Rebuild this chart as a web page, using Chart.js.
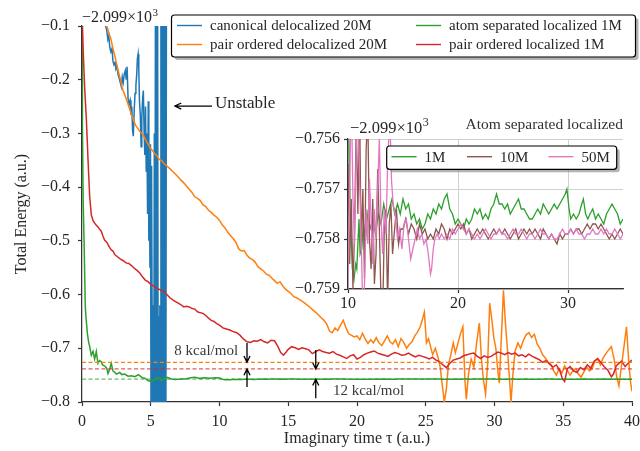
<!DOCTYPE html>
<html>
<head>
<meta charset="utf-8">
<script src="https://cdn.jsdelivr.net/npm/chart.js@4.4.0/dist/chart.umd.min.js"></script>
<style>
body{margin:0;background:#fff}
#wrap{position:relative;width:640px;height:451px}
#main{position:absolute;left:0;top:0}
#inset{position:absolute;left:280px;top:110px}
</style>
</head>
<body>
<div id="wrap">
<canvas id="main" width="640" height="451"></canvas>
<canvas id="inset" width="350" height="212"></canvas>
</div>
<script>
// ticks
const xTicks=[0,5,10,15,20,25,30,35,40];
const yTicks=[-0.8,-0.7,-0.6,-0.5,-0.4,-0.3,-0.2,-0.1];
const insetXTicks=[10,20,30];
const insetYTicks=[-0.759,-0.758,-0.757,-0.756];
// dashed reference levels: pair ordered delocalized, pair ordered localized, atom separated localized
const refLevels=[-0.7262,-0.7385,-0.7575];

// [tau, E + 2099]
const canonicalDeloc20M=[[1.45,-.06],[1.6,-.09],[1.72,-.1],[1.8,-.108],[1.88,-.125],[1.95,-.118],[2.02,-.14],[2.1,-.148],[2.18,-.142],[2.25,-.165],
[2.32,-.172],[2.4,-.168],[2.47,-.18],[2.55,-.176],[2.62,-.19],[2.7,-.197],[2.78,-.205],[2.86,-.213],[2.93,-.195],[3.0,-.205],[3.07,-.19],
[3.15,-.183],[3.22,-.2],[3.28,-.176],[3.35,-.235],[3.42,-.245],[3.5,-.238],[3.56,-.265],[3.62,-.25],[3.68,-.295],[3.73,-.305],[3.8,-.255],
[3.86,-.225],[3.92,-.21],[3.98,-.19],[4.03,-.16],[4.08,-.152],[4.13,-.18],[4.18,-.24],[4.24,-.265],[4.3,-.325],[4.35,-.27],[4.4,-.24],
[4.46,-.22],[4.52,-.3],[4.57,-.34],[4.62,-.25],[4.67,-.37],[4.72,-.3],[4.77,-.45],[4.82,-.24],[4.86,-.5],[4.9,-.35],[4.94,-.55],[4.98,-.32],
[5.02,-.85],[5.06,-.36],[5.1,-.64],[5.14,-.85],[5.18,-.62],[5.22,-.85],[5.26,-.3],[5.3,-.85],[5.34,-.05],[5.38,-.85],[5.42,-.05],[5.46,-.85],
[5.5,-.05],[5.54,-.85],[5.58,-.64],[5.62,-.85],[5.66,-.62],[5.7,-.85],[5.74,-.05],[5.78,-.85],[5.82,-.05],[5.86,-.85],[5.9,-.05],[5.94,-.85],
[5.98,-.05],[6.02,-.85],[6.06,-.05],[6.1,-.85],[6.14,-.05]];

const pairOrderedDeloc20M=[[1.7,-.09],[1.8,-.1],[1.9,-.108],[2.0,-.117],[2.1,-.124],[2.2,-.136],[2.3,-.147],[2.4,-.157],[2.5,-.169],[2.6,-.18],
[2.7,-.19],[2.8,-.2],[2.9,-.213],[3.0,-.221],[3.15,-.231],[3.3,-.242],[3.45,-.253],[3.6,-.265],[3.75,-.276],[3.9,-.285],[4.05,-.29],[4.2,-.296],
[4.35,-.3],[4.5,-.305],[4.65,-.313],[4.8,-.32],[5.0,-.328],[5.15,-.333],[5.3,-.338],[5.45,-.342],[5.6,-.348],[5.8,-.351],[6.0,-.357],[6.2,-.361],
[6.4,-.366],[6.6,-.371],[6.8,-.376],[7.0,-.381],[7.2,-.387],[7.4,-.392],[7.6,-.398],[7.8,-.404],[8.0,-.41],[8.2,-.418],[8.4,-.421],[8.6,-.425],
[8.8,-.433],[9.0,-.436],[9.2,-.443],[9.4,-.447],[9.6,-.452],[9.8,-.456],[10.0,-.462],[10.2,-.47],[10.4,-.476],[10.6,-.484],[10.8,-.49],[11.0,-.496],
[11.2,-.503],[11.4,-.515],[11.6,-.519],[11.8,-.518],[12.0,-.527],[12.2,-.532],[12.4,-.535],[12.6,-.54],[12.8,-.548],[13.0,-.552],[13.2,-.556],
[13.4,-.562],[13.6,-.564],[13.8,-.569],[14.0,-.574],[14.2,-.579],[14.4,-.576],[14.6,-.584],[14.8,-.59],[15.0,-.594],[15.2,-.598],[15.4,-.604],
[15.6,-.606],[15.8,-.609],[16.0,-.612],[16.2,-.616],[16.4,-.62],[16.6,-.624],[16.8,-.629],[17.0,-.633],[17.2,-.638],[17.4,-.643],[17.6,-.648],
[17.8,-.655],[18.0,-.668],[18.2,-.671],[18.4,-.662],[18.6,-.667],[18.8,-.657],[19.0,-.648],[19.2,-.662],[19.4,-.673],[19.6,-.676],[19.8,-.679],
[20.0,-.677],[20.2,-.684],[20.4,-.672],[20.6,-.683],[20.8,-.691],[21.0,-.684],[21.2,-.69],[21.4,-.68],[21.6,-.69],[21.8,-.695],[22.0,-.686],
[22.2,-.677],[22.4,-.688],[22.6,-.692],[22.8,-.684],[23.0,-.697],[23.2,-.682],[23.4,-.689],[23.6,-.7],[23.8,-.693],[24.0,-.688],[24.2,-.677],
[24.4,-.67],[24.6,-.66],[24.75,-.647],[24.9,-.633],[25.05,-.69],[25.2,-.682],[25.35,-.697],[25.5,-.712],[25.7,-.7],[25.9,-.718],[26.05,-.735],
[26.2,-.768],[26.35,-.8],[26.5,-.775],[26.65,-.73],[26.8,-.715],[27.0,-.69],[27.15,-.708],[27.3,-.695],[27.5,-.675],[27.7,-.66],[27.85,-.76],
[27.95,-.795],[28.1,-.75],[28.3,-.72],[28.5,-.735],[28.7,-.69],[28.9,-.653],[29.05,-.72],[29.2,-.76],[29.35,-.785],[29.5,-.73],[29.65,-.616],
[29.8,-.645],[29.95,-.68],[30.1,-.7],[30.25,-.745],[30.35,-.765],[30.5,-.68],[30.65,-.592],[30.8,-.655],[30.95,-.705],[31.1,-.76],[31.2,-.8],
[31.35,-.745],[31.5,-.705],[31.7,-.69],[31.9,-.7],[32.1,-.685],[32.3,-.675],[32.5,-.671],[32.7,-.68],[32.9,-.674],[33.1,-.692],[33.3,-.7],
[33.5,-.712],[33.7,-.718],[33.9,-.726],[34.1,-.73],[34.3,-.742],[34.5,-.75],[34.7,-.738],[34.9,-.746],[35.1,-.733],[35.3,-.741],[35.5,-.75],
[35.7,-.742],[35.9,-.738],[36.1,-.748],[36.3,-.754],[36.5,-.744],[36.7,-.735],[36.9,-.742],[37.1,-.738],[37.3,-.724],[37.5,-.72],[37.7,-.731],
[37.9,-.718],[38.1,-.71],[38.3,-.703],[38.5,-.697],[38.7,-.72],[38.9,-.755],[39.05,-.77],[39.2,-.74],[39.35,-.71],[39.5,-.68],[39.6,-.66],
[39.75,-.72],[39.9,-.765],[40.0,-.78]];

const atomSepLoc1M=[[0,-.02],[0.03,-.28],[0.08,-.42],[0.15,-.5],[0.24,-.623],[0.3,-.645],[0.39,-.672],[0.48,-.688],[0.56,-.697],[0.68,-.713],
[0.8,-.706],[0.92,-.72],[1.04,-.706],[1.16,-.728],[1.28,-.723],[1.4,-.725],[1.5,-.731],[1.65,-.733],[1.8,-.737],[1.89,-.747],[2.0,-.74],
[2.13,-.728],[2.25,-.742],[2.4,-.745],[2.5,-.748],[2.75,-.745],[2.9,-.749],[3.1,-.748],[3.35,-.752],[3.6,-.751],[3.85,-.753],[4.1,-.749],
[4.4,-.755],[4.6,-.756],[4.8,-.76],[5.05,-.762],[5.3,-.757],[5.55,-.754],[5.8,-.76],[6.0,-.757],[6.2,-.754],[6.5,-.757],[6.8,-.758],[7.2,-.757],
[7.5,-.757],[7.9,-.755],[8.2,-.754],[8.6,-.756],[8.9,-.755],[9.3,-.756],[9.7,-.755],
[10.0,-.7552],[10.1,-.7562],[10.2,-.7574],[10.3,-.758],[10.4,-.7586],[10.55,-.7588],[10.7,-.7585],[10.8,-.7586],[10.9,-.7581],[11.0,-.7576],
[11.1,-.7583],[11.25,-.7582],[11.4,-.7577],[11.6,-.758],[11.8,-.7575],[12.0,-.7578],[12.25,-.7576],[12.5,-.7579],[12.75,-.7575],[13.0,-.7577],
[13.25,-.7573],[13.5,-.7576],[13.75,-.7574],[14.0,-.7572],[14.25,-.7575],[14.5,-.7573],[14.75,-.7575],[15.0,-.7572],[15.25,-.7574],[15.5,-.7573],
[15.75,-.7576],[16.0,-.7575],[16.25,-.7577],[16.5,-.7576],[16.75,-.7578],[17.0,-.7577],[17.25,-.7575],[17.5,-.7576],[17.75,-.7574],[18.0,-.7575],
[18.25,-.7573],[18.5,-.7574],[18.75,-.7572],[19.0,-.7571],[19.25,-.7574],[19.5,-.7575],[19.75,-.7577],[20.0,-.7576],[20.25,-.7577],[20.5,-.7578],
[20.75,-.7576],[21.0,-.7577],[21.25,-.7576],[21.5,-.7574],[21.75,-.7575],[22.0,-.7574],[22.25,-.7576],[22.5,-.7575],[22.75,-.7576],[23.0,-.7574],
[23.25,-.7573],[23.5,-.7571],[23.75,-.7573],[24.0,-.7573],[24.25,-.7574],[24.5,-.7573],[24.75,-.7575],[25.0,-.7574],[25.25,-.7573],[25.5,-.7572],
[25.75,-.7574],[26.0,-.7574],[26.25,-.7575],[26.5,-.7576],[26.75,-.7576],[27.0,-.7575],[27.25,-.7574],[27.5,-.7575],[27.75,-.7573],[28.0,-.7574],
[28.25,-.7575],[28.5,-.7574],[28.75,-.7573],[29.0,-.7574],[29.25,-.7573],[29.5,-.7572],[29.75,-.7571],[29.9,-.757],[30.1,-.7574],[30.25,-.7576],
[30.5,-.7575],[30.75,-.7576],[31.0,-.7575],[31.25,-.7573],[31.4,-.7572],[31.6,-.7575],[31.8,-.7576],[32.0,-.7575],[32.25,-.7574],[32.5,-.7576],
[32.75,-.7575],[33.0,-.7576],[33.25,-.7577],[33.5,-.7575],[33.75,-.7574],[34.0,-.7573],[34.25,-.7574],[34.5,-.7575],[34.75,-.7577],[35.0,-.7576],
[35.5,-.7575],[36.0,-.7576],[36.5,-.7574],[37.0,-.7575],[37.5,-.7576],[38.0,-.7574],[38.5,-.7575],[39.0,-.7575],[39.5,-.7576],[40.0,-.7575]];

const pairOrderedLoc1M=[[0,-.08],[0.1,-.155],[0.19,-.213],[0.32,-.275],[0.44,-.35],[0.56,-.418],[0.68,-.452],[0.8,-.462],[0.92,-.467],[1.04,-.471],
[1.16,-.474],[1.3,-.479],[1.4,-.482],[1.52,-.491],[1.65,-.499],[1.78,-.502],[1.9,-.507],[2.0,-.512],[2.13,-.517],[2.25,-.519],[2.4,-.526],
[2.6,-.53],[2.8,-.534],[3.0,-.537],[3.2,-.541],[3.4,-.542],[3.6,-.546],[3.8,-.551],[4.0,-.555],[4.2,-.56],[4.4,-.567],[4.6,-.573],[4.8,-.576],
[5.0,-.581],[5.2,-.584],[5.4,-.588],[5.6,-.59],[5.8,-.593],[6.0,-.595],[6.2,-.601],[6.4,-.606],[6.6,-.61],[6.8,-.613],[7.0,-.616],[7.2,-.619],
[7.4,-.623],[7.6,-.622],[7.8,-.623],[8.0,-.626],[8.2,-.627],[8.4,-.632],[8.6,-.634],[8.8,-.635],[9.0,-.639],[9.2,-.644],[9.4,-.648],[9.6,-.65],
[9.8,-.654],[10.0,-.657],[10.25,-.662],[10.5,-.664],[10.75,-.666],[11.0,-.669],[11.25,-.671],[11.5,-.676],[11.75,-.683],[12.0,-.688],[12.25,-.689],
[12.5,-.686],[12.75,-.687],[13.0,-.684],[13.25,-.688],[13.5,-.69],[13.75,-.685],[14.0,-.686],[14.25,-.697],[14.45,-.708],[14.65,-.713],[14.85,-.707],
[15.0,-.702],[15.25,-.697],[15.5,-.699],[15.75,-.702],[16.0,-.699],[16.25,-.701],[16.5,-.703],[16.75,-.71],[17.0,-.706],[17.25,-.703],[17.5,-.706],
[17.75,-.708],[18.0,-.709],[18.25,-.706],[18.5,-.711],[18.75,-.713],[19.0,-.716],[19.25,-.719],[19.5,-.714],[19.75,-.712],[20.0,-.72],[20.25,-.717],
[20.5,-.712],[20.75,-.709],[21.0,-.707],[21.25,-.705],[21.5,-.709],[21.75,-.711],[22.0,-.713],[22.25,-.715],[22.5,-.711],[22.75,-.708],[23.0,-.71],
[23.25,-.713],[23.5,-.712],[23.75,-.709],[24.0,-.713],[24.25,-.716],[24.5,-.713],[24.75,-.715],[25.0,-.717],[25.25,-.72],[25.5,-.717],[25.75,-.722],
[26.0,-.725],[26.25,-.731],[26.5,-.736],[26.75,-.728],[27.0,-.722],[27.25,-.72],[27.5,-.718],[27.75,-.714],[28.0,-.712],[28.25,-.71],[28.5,-.709],
[28.75,-.715],[29.0,-.719],[29.25,-.714],[29.5,-.717],[29.75,-.715],[30.0,-.711],[30.25,-.707],[30.5,-.709],[30.75,-.712],[31.0,-.708],[31.25,-.711],
[31.5,-.709],[31.75,-.714],[32.0,-.712],[32.25,-.716],[32.5,-.711],[32.75,-.715],[33.0,-.718],[33.25,-.721],[33.5,-.726],[33.75,-.723],[34.0,-.729],
[34.25,-.735],[34.5,-.731],[34.75,-.742],[34.95,-.757],[35.1,-.762],[35.3,-.738],[35.5,-.734],[35.75,-.742],[36.0,-.745],[36.25,-.736],[36.5,-.74],
[36.75,-.731],[37.0,-.737],[37.25,-.724],[37.5,-.719],[37.75,-.727],[38.0,-.735],[38.25,-.741],[38.5,-.753],[38.65,-.748],[38.85,-.733],[39.0,-.729],
[39.25,-.724],[39.5,-.734],[39.75,-.727],[40.0,-.722]];

// inset only
const atomSepLoc10M=[[10.0,-.7565],[10.15,-.7585],[10.3,-.7572],[10.45,-.759],[10.6,-.7578],[10.75,-.7556],[10.9,-.7575],[11.05,-.7553],[11.2,-.7582],
[11.35,-.757],[11.5,-.7588],[11.65,-.7562],[11.8,-.7555],[11.95,-.758],[12.1,-.7586],[12.25,-.7572],[12.4,-.7589],[12.55,-.7583],[12.7,-.7566],
[12.85,-.7578],[13.0,-.7592],[13.15,-.7595],[13.3,-.7578],[13.45,-.7574],[13.6,-.7593],[13.75,-.7577],[13.9,-.7573],[14.05,-.7583],[14.2,-.7579],
[14.4,-.7574],[14.6,-.7581],[14.8,-.7578],[15.0,-.7578],[15.25,-.7576],[15.5,-.7579],[15.75,-.7577],[16.0,-.7578],[16.25,-.758],[16.5,-.7577],
[16.75,-.7579],[17.0,-.7578],[17.25,-.758],[17.5,-.7579],[17.75,-.758],[18.0,-.7578],[18.25,-.7579],[18.5,-.7577],[18.75,-.7578],[19.0,-.758],
[19.25,-.7578],[19.5,-.7579],[19.75,-.7578],[20.0,-.7577],[20.25,-.7578],[20.5,-.7577],[20.75,-.7579],[21.0,-.7578],[21.25,-.758],[21.5,-.7579],
[21.75,-.7578],[22.0,-.7579],[22.25,-.7578],[22.5,-.7579],[22.75,-.758],[23.0,-.7579],[23.25,-.7578],[23.5,-.7579],[23.75,-.7578],[24.0,-.7579],
[24.25,-.7578],[24.5,-.7579],[24.75,-.758],[25.0,-.7579],[25.25,-.7578],[25.5,-.758],[25.75,-.7579],[26.0,-.7578],[26.25,-.7579],[26.5,-.7578],
[26.75,-.7579],[27.0,-.7578],[27.25,-.7579],[27.5,-.758],[27.75,-.7578],[28.0,-.7579],[28.25,-.758],[28.5,-.7579],[28.75,-.758],[29.0,-.7581],
[29.25,-.7579],[29.5,-.758],[29.75,-.7579],[30.0,-.7579],[30.25,-.7578],[30.5,-.7579],[30.75,-.7578],[31.0,-.7578],[31.25,-.7579],[31.5,-.7578],
[31.75,-.7577],[32.0,-.7578],[32.25,-.7577],[32.5,-.7577],[32.75,-.7578],[33.0,-.7577],[33.25,-.7578],[33.5,-.7579],[33.75,-.758],[34.0,-.7579],
[34.25,-.758],[34.5,-.7579],[34.75,-.7578],[35.0,-.7579]];

const atomSepLoc50M=[[10.0,-.759],[10.15,-.757],[10.3,-.755],[10.45,-.7572],[10.6,-.7581],[10.75,-.7562],[10.9,-.755],[11.05,-.7568],[11.2,-.758],
[11.35,-.7595],[11.5,-.7589],[11.65,-.7574],[11.8,-.7581],[11.95,-.7568],[12.1,-.7576],[12.25,-.7585],[12.4,-.7574],[12.55,-.758],[12.7,-.757],
[12.85,-.756],[13.0,-.7576],[13.15,-.7583],[13.3,-.7574],[13.45,-.7579],[13.6,-.7565],[13.8,-.7555],[13.95,-.7568],[14.1,-.7573],[14.3,-.7575],
[14.5,-.758],[14.7,-.7578],[14.9,-.7582],[15.1,-.7577],[15.3,-.7576],[15.5,-.758],[15.7,-.7584],[15.9,-.7582],[16.1,-.758],[16.3,-.7578],
[16.5,-.758],[16.7,-.7579],[16.9,-.7581],[17.1,-.758],[17.3,-.7583],[17.5,-.7587],[17.6,-.7586],[17.75,-.7582],[17.9,-.758],[18.1,-.7579],
[18.3,-.758],[18.5,-.7579],[18.75,-.758],[19.0,-.7579],[19.25,-.758],[19.5,-.7578],[19.75,-.7579],[20.0,-.7578],[20.25,-.7577],[20.5,-.7578],
[20.75,-.7579],[21.0,-.7578],[21.25,-.7579],[21.5,-.758],[21.75,-.7579],[22.0,-.758],[22.25,-.7579],[22.5,-.7578],[22.75,-.7579],[23.0,-.758],
[23.25,-.7579],[23.5,-.7579],[23.75,-.7578],[24.0,-.7579],[24.25,-.7579],[24.5,-.758],[24.75,-.7579],[25.0,-.7578],[25.25,-.7579],[25.5,-.7579],
[25.75,-.7578],[26.0,-.7579],[26.25,-.758],[26.5,-.7579],[26.75,-.7579],[27.0,-.758],[27.25,-.7579],[27.5,-.7578],[27.75,-.7579],[28.0,-.7579],
[28.25,-.758],[28.5,-.7579],[28.75,-.758],[29.0,-.758],[29.25,-.7579],[29.5,-.7578],[29.75,-.7579],[30.0,-.7579],[30.25,-.7578],[30.5,-.7579],
[30.75,-.7578],[31.0,-.7579],[31.25,-.7579],[31.5,-.758],[31.75,-.7579],[32.0,-.7579],[32.25,-.7578],[32.5,-.7579],[32.75,-.7579],[33.0,-.7578],
[33.25,-.7579],[33.5,-.7578],[33.75,-.7579],[34.0,-.7579],[34.25,-.7578],[34.5,-.7579],[34.75,-.758],[35.0,-.7579]];

var serif="'Liberation Serif','Times New Roman',serif";
var ink='#262626';

function pts(a){ return a.map(function(p){ return {x:p[0], y:p[1]}; }); }
function level(v, x0, x1){ return [{x:x0, y:v},{x:x1, y:v}]; }
function minusFmt(v, d){ return v.toFixed(d).replace('-', '\u2212'); }

function roundBox(ctx, x, y, w, h, r){
  ctx.beginPath();
  ctx.moveTo(x+r, y);
  ctx.arcTo(x+w, y, x+w, y+h, r);
  ctx.arcTo(x+w, y+h, x, y+h, r);
  ctx.arcTo(x, y+h, x, y, r);
  ctx.arcTo(x, y, x+w, y, r);
  ctx.closePath();
}

function drawLegend(ctx, box, items, size){
  ctx.save();
  roundBox(ctx, box.x+3, box.y+3, box.w, box.h, 3);
  ctx.fillStyle='rgba(128,128,128,0.6)'; ctx.fill();
  roundBox(ctx, box.x, box.y, box.w, box.h, 3);
  ctx.fillStyle='#fff'; ctx.fill();
  ctx.strokeStyle='#000'; ctx.lineWidth=1.2; ctx.stroke();
  ctx.font=size+'px '+serif; ctx.textBaseline='middle'; ctx.textAlign='left';
  items.forEach(function(it){
    ctx.beginPath(); ctx.moveTo(it.x, it.y); ctx.lineTo(it.x+25, it.y);
    ctx.strokeStyle=it.color; ctx.lineWidth=1.4; ctx.stroke();
    ctx.fillStyle=ink; ctx.fillText(it.label, it.x+33, it.y+1);
  });
  ctx.restore();
}

function sciText(ctx, x, y, size){
  ctx.font=size+'px '+serif; ctx.textAlign='left'; ctx.textBaseline='alphabetic'; ctx.fillStyle=ink;
  var base='\u22122.099\u00d710';
  ctx.fillText(base, x, y);
  var w=ctx.measureText(base).width;
  ctx.font=Math.round(size*0.7)+'px '+serif;
  ctx.fillText('3', x+w+0.5, y-size*0.4);
}

function arrow(ctx, x1, y1, x2, y2){
  var a=Math.atan2(y2-y1, x2-x1), L=7, W=0.45;
  ctx.beginPath();
  ctx.moveTo(x1, y1); ctx.lineTo(x2, y2);
  ctx.moveTo(x2-L*Math.cos(a-W), y2-L*Math.sin(a-W));
  ctx.lineTo(x2, y2);
  ctx.lineTo(x2-L*Math.cos(a+W), y2-L*Math.sin(a+W));
  ctx.stroke();
}

function axisOpts(ticks, fmt, extra){
  var o={
    type:'linear', min:ticks[0], max:ticks[ticks.length-1],
    afterBuildTicks:function(s){ s.ticks=ticks.map(function(v){ return {value:v}; }); },
    border:{display:true, color:'#333', width:1.25},
    grid:{display:true, drawOnChartArea:false, drawTicks:true, tickLength:4, tickColor:'#333', tickWidth:1.2},
    ticks:{color:ink, font:{family:serif, size:16}, autoSkip:false, maxRotation:0, callback:fmt}
  };
  for(var k in extra) o[k]=extra[k];
  return o;
}

// keep the plot area fixed: no extra room for overhanging end labels
function fixX(h){ return function(s){ s.height=h; s.paddingLeft=0; s.paddingRight=0; }; }
function fixY(w){ return function(s){ s.width=w; s.paddingTop=0; s.paddingBottom=0; }; }

var mainNotes={
  id:'mainNotes',
  afterDraw:function(chart){
    var ctx=chart.ctx, x=chart.scales.x, y=chart.scales.y;
    ctx.save();
    sciText(ctx, 82, 22, 16);
    ctx.strokeStyle='#000'; ctx.lineWidth=1.3;
    arrow(ctx, x.getPixelForValue(9.45), y.getPixelForValue(-0.249), x.getPixelForValue(6.76), y.getPixelForValue(-0.249));
    arrow(ctx, x.getPixelForValue(12), y.getPixelForValue(-0.690), x.getPixelForValue(12), y.getPixelForValue(refLevels[0]));
    arrow(ctx, x.getPixelForValue(12), y.getPixelForValue(-0.772), x.getPixelForValue(12), y.getPixelForValue(refLevels[1]));
    arrow(ctx, x.getPixelForValue(17), y.getPixelForValue(-0.703), x.getPixelForValue(17), y.getPixelForValue(refLevels[1]));
    arrow(ctx, x.getPixelForValue(17), y.getPixelForValue(-0.793), x.getPixelForValue(17), y.getPixelForValue(refLevels[2]));
    ctx.fillStyle=ink; ctx.textBaseline='alphabetic';
    ctx.font='17px '+serif; ctx.textAlign='left';
    ctx.fillText('Unstable', x.getPixelForValue(9.67), y.getPixelForValue(-0.2527));
    ctx.font='15px '+serif; ctx.fillStyle='#3a3a3a';
    ctx.textAlign='right';
    ctx.fillText('8 kcal/mol', x.getPixelForValue(11.35), y.getPixelForValue(-0.712));
    ctx.textAlign='left';
    ctx.fillText('12 kcal/mol', x.getPixelForValue(18.25), y.getPixelForValue(-0.7872));
    ctx.restore();
    var ds=chart.data.datasets;
    drawLegend(ctx, {x:171.5, y:15, w:464, h:42}, [
      {label:ds[0].label, color:ds[0].borderColor, x:177, y:25.5},
      {label:ds[1].label, color:ds[1].borderColor, x:177, y:44.5},
      {label:ds[2].label, color:ds[2].borderColor, x:416, y:25.5},
      {label:ds[3].label, color:ds[3].borderColor, x:416, y:44.5}
    ], 15);
  }
};

var insetNotes={
  id:'insetNotes',
  beforeDraw:function(chart){
    var a=chart.chartArea, ctx=chart.ctx;
    ctx.save(); ctx.fillStyle='#fff'; ctx.fillRect(a.left, a.top, a.right-a.left, a.bottom-a.top); ctx.restore();
  },
  afterDraw:function(chart){
    var ctx=chart.ctx;
    ctx.save();
    sciText(ctx, 70, 23, 16.5);
    ctx.font='15.5px '+serif; ctx.textAlign='right'; ctx.fillStyle='#333';
    ctx.fillText('Atom separated localized', 343, 19);
    ctx.restore();
    var ds=chart.data.datasets;
    drawLegend(ctx, {x:106.7, y:36, w:230, h:23.3}, [
      {label:ds[0].label, color:ds[0].borderColor, x:111.5, y:46.7},
      {label:ds[1].label, color:ds[1].borderColor, x:187, y:46.7},
      {label:ds[2].label, color:ds[2].borderColor, x:268.5, y:46.7}
    ], 15);
  }
};

window.onload=function(){
  new Chart(document.getElementById('main'), {
    type:'line',
    data:{datasets:[
      {label:'canonical delocalized 20M', data:pts(canonicalDeloc20M), borderColor:'#1f77b4', borderWidth:1.5, order:5},
      {label:'pair ordered delocalized 20M', data:pts(pairOrderedDeloc20M), borderColor:'#ff7f0e', borderWidth:1.5, order:4},
      {label:'atom separated localized 1M', data:pts(atomSepLoc1M), borderColor:'#2ca02c', borderWidth:1.5, order:3},
      {label:'pair ordered localized 1M', data:pts(pairOrderedLoc1M), borderColor:'#d62728', borderWidth:1.5, order:2},
      {label:'ref1', data:level(refLevels[0], 0, 40), borderColor:'#ff7f0e', borderWidth:1.2, borderDash:[4,2.5], order:1},
      {label:'ref2', data:level(refLevels[1], 0, 40), borderColor:'rgba(214,39,40,0.75)', borderWidth:1.2, borderDash:[4,2.5], order:1},
      {label:'ref3', data:level(refLevels[2], 0, 40), borderColor:'rgba(44,160,44,0.7)', borderWidth:1.2, borderDash:[4,2.5], order:1}
    ]},
    options:{
      responsive:false, animation:false, devicePixelRatio:1,
      elements:{point:{radius:0}, line:{tension:0, fill:false}},
      layout:{padding:{left:8, top:26, right:8, bottom:0}},
      plugins:{legend:{display:false}, tooltip:{enabled:false}},
      scales:{
        x:axisOpts(xTicks, function(v){ return String(v); }, {
          afterFit:fixX(49),
          title:{display:true, text:'Imaginary time \u03c4 (a.u.)', color:ink, font:{family:serif, size:16}, padding:{top:0, bottom:3}}
        }),
        y:axisOpts(yTicks, function(v){ return minusFmt(v, 1); }, {
          afterFit:fixY(74),
          title:{display:true, text:'Total Energy (a.u.)', color:ink, font:{family:serif, size:16}, padding:{top:4, bottom:0}}
        })
      }
    },
    plugins:[mainNotes]
  });
  var m=Chart.getChart('main');
  m.options.scales.x.ticks.padding=6; m.options.scales.y.ticks.padding=8; m.update();

  new Chart(document.getElementById('inset'), {
    type:'line',
    data:{datasets:[
      {label:'1M', data:pts(atomSepLoc1M), borderColor:'#2ca02c', borderWidth:1.3, order:3},
      {label:'10M', data:pts(atomSepLoc10M), borderColor:'#8c564b', borderWidth:1.3, order:2},
      {label:'50M', data:pts(atomSepLoc50M), borderColor:'#e377c2', borderWidth:1.3, order:1}
    ]},
    options:{
      responsive:false, animation:false, devicePixelRatio:1,
      elements:{point:{radius:0}, line:{tension:0, fill:false}},
      layout:{padding:{left:0, top:29, right:7, bottom:0}},
      plugins:{legend:{display:false}, tooltip:{enabled:false}},
      scales:{
        x:axisOpts(insetXTicks, function(v){ return String(v); }, {
          min:10, max:35,
          afterFit:fixX(33)
        }),
        y:axisOpts(insetYTicks, function(v){ return minusFmt(v, 3); }, {
          afterFit:fixY(68)
        })
      }
    },
    plugins:[insetNotes]
  });
  var c=Chart.getChart('inset');
  c.options.scales.x.grid.drawOnChartArea=true; c.options.scales.x.grid.color='#d0d0d0';
  c.options.scales.y.grid.drawOnChartArea=true; c.options.scales.y.grid.color='#d0d0d0';
  c.options.scales.x.ticks.padding=1; c.options.scales.y.ticks.padding=4;
  c.update();
};
</script>
</body>
</html>
